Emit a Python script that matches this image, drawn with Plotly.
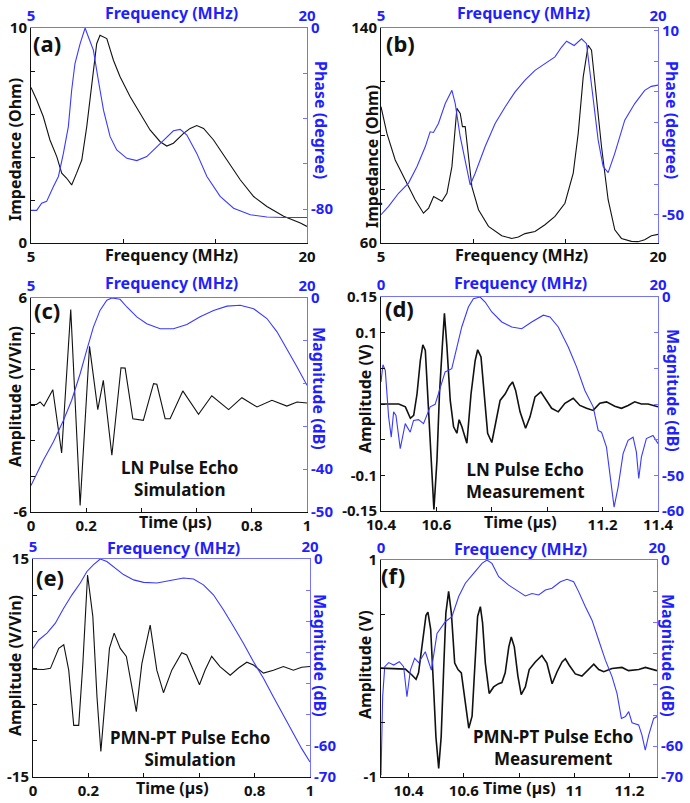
import plotly.graph_objects as go

W, H = 690, 803
FONT = 'Noto Sans'
BLACK = '#111111'
BLUE = '#1f1fff'
BLUE_LINE = '#3a3aff'
BLUE_AXIS = '#7373ff'

# (a) LN impedance / phase
a_f_imp = [5, 5.31, 5.67, 6.03, 6.40, 6.67, 6.94, 7.21, 7.48, 7.76, 8.03, 8.30, 8.57, 8.75, 9.12, 9.48,
           9.84, 10.39, 10.93, 11.47, 12.02, 12.38, 12.74, 13.29, 13.65, 14.01, 14.38, 14.92, 15.65,
           16.37, 17.10, 17.82, 18.73, 19.64, 20]
a_imp = [7.23, 6.65, 5.87, 4.79, 4.02, 3.25, 3.01, 2.70, 3.25, 3.86, 5.41, 7.42, 9.27, 9.66, 9.51, 8.50,
         7.73, 6.80, 6.03, 5.26, 4.71, 4.51, 4.64, 5.10, 5.33, 5.46, 5.33, 4.79, 3.86,
         2.94, 2.16, 1.70, 1.24, 0.93, 0.77]
a_f_ph = [5, 5.31, 5.58, 5.85, 6.22, 6.49, 6.76, 7.03, 7.21, 7.39, 7.67, 7.94, 8.12, 8.39, 8.66, 8.94,
          9.30, 9.66, 10.21, 10.75, 11.29, 11.84, 12.38, 12.74, 13.11, 13.47, 14.01, 14.56, 15.28,
          16.01, 16.92, 17.82, 18.73, 20]
a_phase = [-80.6, -80.6, -77.4, -76.6, -70.0, -65.6, -55.4, -43.6, -27.5, -15.7, -6.9, 0, -4.0, -9.8,
           -23.1, -36.3, -48.0, -53.9, -57.6, -58.6, -56.8, -52.4, -48.0, -45.4, -44.8, -47.3, -55.4,
           -65.6, -74.4, -79.6, -82.5, -83.5, -83.7, -83.7]

# (b) PMN-PT impedance / phase
b_f_imp = [5, 5.32, 5.77, 6.31, 6.85, 7.30, 7.58, 7.85, 8.12, 8.30, 8.57, 8.84, 9.11, 9.29, 9.41, 9.56,
           9.74, 9.92, 10.28, 10.82, 11.54, 12.08, 12.44, 12.80, 13.34, 13.88, 14.42, 14.96, 15.41,
           15.68, 15.95, 16.22, 16.40, 16.67, 16.94, 17.30, 17.66, 18.02, 18.56, 18.92, 19.28, 19.64, 20]
b_imp = [110.7, 100.8, 90.9, 83.5, 76.1, 71.1, 73.0, 77.3, 76.3, 75.5, 78.5, 88.4, 110.1, 108.2, 103.3,
         103.3, 92.1, 81.0, 72.4, 66.2, 62.7, 61.7, 62.2, 63.5, 64.3, 66.8, 69.9, 74.8, 86.0,
         100.8, 121.8, 133.6, 131.7, 113.2, 95.9, 76.1, 64.9, 61.7, 60.6, 60.5, 61.2, 62.7, 63.2]
b_f_ph = [5, 5.41, 5.95, 6.49, 6.95, 7.40, 7.66, 7.84, 8.11, 8.48, 8.84, 9.02, 9.29, 9.56, 9.83, 10.10,
          10.64, 11.18, 11.72, 12.26, 12.80, 13.34, 13.88, 14.42, 14.78, 15.05, 15.46, 15.86, 16.13,
          16.40, 16.76, 17.03, 17.30, 17.66, 18.20, 18.74, 19.28, 19.64, 20]
b_phase = [-50, -47.3, -43.0, -39.7, -34.3, -27.8, -23.0, -23.2, -20.3, -13.8, -9.5, -13.8, -24.6, -32.2,
           -40.3, -36.5, -27.8, -20.3, -14.9, -10.0, -6.2, -3.0, -0.8, 1.4, 4.6, 6.5, 5.1, 7.3, 5.7,
           -8.4, -25.7, -34.3, -36.3, -30.0, -19.2, -13.8, -9.5, -8.2, -7.8]

# (c) LN pulse echo simulation
c_time = [0, 0.02, 0.033, 0.047, 0.079, 0.111, 0.144, 0.178, 0.212, 0.242, 0.262, 0.293, 0.326, 0.341,
          0.369, 0.407, 0.444, 0.456, 0.486, 0.504, 0.550, 0.607, 0.655, 0.716, 0.764, 0.819, 0.873,
          0.927, 0.964, 1.0]
c_amp = [0.03, 0.03, 0.17, -0.06, 0.86, -2.69, 5.35, -5.63, 3.29, -0.26, 1.38, -2.82, 2.09, 2.07,
         -0.77, -0.86, 1.20, 1.16, -0.77, -0.77, 0.79, -0.52, 0.52, -0.26, 0.41, -0.11, 0.26,
         -0.06, 0.17, 0.11]
c_freq = [5, 5.31, 5.67, 6.22, 6.76, 7.21, 7.67, 8.03, 8.39, 8.75, 9.12, 9.39, 9.66, 9.84, 10.21, 10.75,
          11.29, 12.02, 12.74, 13.47, 14.19, 14.92, 15.65, 16.37, 17.10, 17.82, 18.37, 18.91, 19.46, 20]
c_mag = [-43.8, -41.0, -37.9, -33.6, -28.6, -23.9, -17.7, -12.2, -6.8, -2.9, -0.5, 0, -0.2, -0.3, -2.1,
         -4.4, -6.0, -7.2, -7.2, -6.2, -4.4, -2.9, -1.9, -1.7, -2.5, -4.8, -7.9, -11.8, -16.1, -20.4]

# (d) LN pulse echo measurement
d_time = [10.4, 10.428, 10.464, 10.488, 10.506, 10.518, 10.530, 10.542, 10.551, 10.560, 10.569, 10.581,
          10.591, 10.602, 10.611, 10.622, 10.629, 10.638, 10.650, 10.662, 10.674, 10.682, 10.692,
          10.710, 10.725, 10.740, 10.749, 10.761, 10.773, 10.785, 10.800, 10.812, 10.830, 10.848,
          10.863, 10.875, 10.886, 10.902, 10.922, 10.938, 10.956, 10.977, 10.998, 11.016, 11.040,
          11.064, 11.094, 11.118, 11.142, 11.166, 11.190, 11.214, 11.244, 11.268, 11.292, 11.316,
          11.340, 11.364, 11.4]
d_amp = [0.0, 0.0, 0.0, -0.004, -0.02, -0.016, 0.014, 0.061, 0.083, 0.075, 0.014, -0.079,
         -0.148, -0.079, 0.014, 0.085, 0.127, 0.080, 0.005, -0.032, -0.041, -0.022, -0.032,
         -0.055, 0.014, 0.061, 0.076, 0.066, 0.014, -0.041, -0.054, -0.032, 0.005, 0.014,
         0.025, 0.031, 0.019, -0.011, -0.034, -0.018, 0.010, 0.017, 0.005, -0.006, -0.011,
         0.001, 0.008, -0.002, -0.006, -0.009, 0.001, 0.003, -0.003, -0.006, -0.002, 0.003,
         0.0, 0.0, -0.004]
d_freq = [0, 0.14, 0.31, 0.55, 0.74, 0.91, 1.08, 1.39, 1.75, 2.11, 2.35, 2.71, 3.07, 3.55, 3.91, 4.27,
          4.63, 5.11, 5.47, 5.83, 6.31, 6.67, 7.15, 7.52, 8.00, 8.72, 9.44, 10.16, 10.88, 11.72, 12.20,
          12.80, 13.52, 14.12, 14.72, 15.32, 15.68, 15.92, 16.28, 16.57, 16.83, 17.12, 17.48, 17.84,
          18.20, 18.44, 18.61, 18.80, 19.16, 19.64, 20]
d_mag = [-23.8, -19.0, -20.6, -33.6, -39.3, -32.2, -33.2, -42.5, -35.5, -37.9, -34.6, -34.4, -35.5,
         -30.8, -30.1, -25.2, -21.0, -20.1, -14.5, -8.4, -2.8, -0.5, 0, -1.4, -4.2, -7.0, -8.4, -8.9,
         -7.0, -5.1, -5.6, -8.4, -14.0, -19.6, -26.2, -30.8, -37.4, -37.9, -42.1, -51.4, -58.9,
         -53.3, -43.9, -40.2, -39.3, -43.5, -50.9, -44.9, -39.7, -38.8, -41.1]

# (e) PMN-PT pulse echo simulation
e_time = [0, 0.038, 0.063, 0.093, 0.111, 0.129, 0.147, 0.165, 0.180, 0.197, 0.216, 0.231, 0.245, 0.261,
          0.276, 0.293, 0.315, 0.337, 0.353, 0.373, 0.393, 0.423, 0.447, 0.471, 0.501, 0.537, 0.555,
          0.579, 0.601, 0.621, 0.645, 0.675, 0.712, 0.742, 0.772, 0.796, 0.832, 0.868, 0.904, 0.940,
          0.970, 1.0]
e_amp = [-0.18, -0.2, -0.05, 2.7, 3.2, -0.3, -7.9, -7.9, 0.6, 12.8, 7.1, -4.0, -11.5, -4.0, 2.7, 4.8,
         2.7, 1.6, -1.7, -6.0, 0.6, 5.9, -0.3, -3.4, -0.3, 2.1, 1.8, -0.3, -2.3, -0.3, 1.6, 0.2,
         -1.0, 0.0, 0.8, 0.4, -0.7, -0.3, 0.2, -0.3, 0.1, 0.2]
e_freq = [5, 5.31, 5.76, 6.21, 6.66, 7.11, 7.56, 7.92, 8.28, 8.64, 9.00, 9.36, 9.90, 10.45, 10.99, 11.71,
          12.43, 13.15, 13.69, 14.23, 14.77, 15.31, 15.86, 16.40, 16.94, 17.48, 18.02, 18.56, 19.10,
          19.55, 20]
e_mag = [-28.7, -26.0, -23.8, -20.6, -15.8, -11.5, -7.7, -4.0, -1.8, 0, -0.8, -2.4, -5.0, -6.7, -7.5,
         -7.7, -6.9, -6.1, -6.4, -8.3, -11.5, -16.3, -21.7, -27.1, -33.0, -38.3, -44.3, -50.2, -56.1,
         -60.9, -65.2]

# (f) PMN-PT pulse echo measurement
f_time = [10.3, 10.352, 10.388, 10.412, 10.427, 10.436, 10.451, 10.463, 10.470, 10.480, 10.491, 10.499,
          10.509, 10.518, 10.527, 10.535, 10.545, 10.555, 10.567, 10.579, 10.591, 10.603, 10.618,
          10.630, 10.642, 10.650, 10.660, 10.668, 10.678, 10.692, 10.708, 10.726, 10.738, 10.750,
          10.763, 10.772, 10.783, 10.796, 10.808, 10.823, 10.837, 10.859, 10.883, 10.901, 10.920,
          10.938, 10.956, 10.968, 10.982, 11.004, 11.028, 11.052, 11.071, 11.089, 11.107, 11.137,
          11.173, 11.197, 11.234, 11.258, 11.3]
f_amp = [0.003, 0.0, -0.006, -0.06, -0.10, -0.04, 0.26, 0.49, 0.52, 0.36, -0.20, -0.63, -0.92, -0.63,
         -0.01, 0.51, 0.71, 0.51, 0.05, -0.01, -0.04, -0.29, -0.55, -0.44, 0.14, 0.48, 0.57, 0.42,
         0.05, -0.23, -0.17, -0.14, -0.13, -0.04, 0.20, 0.29, 0.20, -0.07, -0.24, -0.17, -0.01,
         0.06, 0.12, 0.05, -0.14, -0.03, 0.06, 0.09, 0.03, -0.05, -0.07, -0.01, 0.04, -0.01, -0.03,
         0.0, 0.01, -0.02, -0.01, 0.01, -0.02]
f_freq = [0, 0.12, 0.27, 0.56, 0.92, 1.33, 1.64, 1.88, 2.13, 2.44, 2.73, 3.21, 3.65, 4.06, 4.66, 5.14,
          5.63, 6.11, 6.71, 7.32, 7.68, 8.04, 8.53, 9.25, 9.98, 10.46, 10.94, 11.43, 11.91, 12.39,
          13.00, 13.48, 13.96, 14.32, 14.81, 15.29, 15.77, 16.26, 16.74, 17.10, 17.42, 17.71, 17.95,
          18.19, 18.67, 18.91, 19.15, 19.40, 19.76, 20]
f_mag = [-69.4, -44.1, -34.4, -33.1, -33.9, -32.8, -34.4, -44.1, -35.5, -31.7, -33.1, -29.6, -35.5,
         -23.7, -19.9, -18.3, -11.8, -7.5, -4.3, -1.1, 0, -1.1, -5.4, -8.1, -10.2, -11.6, -10.8, -11.3,
         -9.7, -9.1, -7.0, -6.2, -7.0, -10.2, -15.1, -19.4, -25.8, -32.3, -37.6, -43.0, -51.1, -50.5,
         -48.9, -52.5, -53.2, -56.5, -61.3, -56.5, -51.1, -50.5]

TIME_TICKS = [0, 0.2, 0.4, 0.6, 0.8, 1]
TIME_TEXT = ['0', '0.2', '', '', '0.8', '1']

panels = [
    dict(box=(31, 28, 307, 243), tag='(a)', tagpos=(47, 43), lw=1.1,
         bx=a_f_imp, by=a_imp, tx=a_f_ph, ty=a_phase,
         x=[5, 20], xt=[5, 10, 15, 20], xl=['5', '', '', '20'], xtitle='Frequency (MHz)', xpos=(171, 255),
         x2=[5, 20], x2l=['5', '20'], x2pos=(171, 13),
         y=[0, 10], yt=[0, 2, 4, 6, 8, 10], yl=['0', '', '', '', '', '10'],
         ytitle='Impedance (Ohm)', ypos=(15, 150),
         y2=[-95, 0], y2t=[-80, -60, -40, -20, 0], y2l=['-80', '', '', '', '0'],
         y2title='Phase (degree)', y2pos=(321, 120), note=None),
    dict(box=(381, 28, 658, 243), tag='(b)', tagpos=(400, 43), lw=1.1,
         bx=b_f_imp, by=b_imp, tx=b_f_ph, ty=b_phase,
         x=[5, 20], xt=[5, 10, 15, 20], xl=['5', '', '', '20'], xtitle='Frequency (MHz)', xpos=(521, 255),
         x2=[5, 20], x2l=['5', '20'], x2pos=(523, 13),
         y=[60, 140], yt=[60, 80, 100, 120, 140], yl=['60', '', '', '', '140'],
         ytitle='Impedance (Ohm)', ypos=(372, 157),
         y2=[-59.2, 10.8], y2t=[-50, -40, -30, -20, -10, 0, 10], y2l=['-50', '', '', '', '', '', '10'],
         y2title='Phase (degree)', y2pos=(672, 120), note=None),
    dict(box=(31, 298, 307, 512), tag='(c)', tagpos=(47, 310), lw=1.1,
         bx=c_time, by=c_amp, tx=c_freq, ty=c_mag,
         x=[0, 1], xt=TIME_TICKS, xl=TIME_TEXT, xtitle='Time (µs)', xpos=(175, 522),
         x2=[5, 20], x2l=['5', '20'], x2pos=(171, 283),
         y=[-6, 6], yt=[-6, -4, -2, 0, 2, 4, 6], yl=['-6', '', '', '', '', '', '6'],
         ytitle='Amplitude (V/Vin)', ypos=(15, 397),
         y2=[-50, 0], y2t=[-50, -40, -30, -20, -10, 0], y2l=['-50', '-40', '', '', '', '0'],
         y2title='Magnitude (dB)', y2pos=(319, 388),
         note=('LN Pulse Echo<br>Simulation', 180, 478)),
    dict(box=(381, 297, 658, 511), tag='(d)', tagpos=(399, 308), lw=1.6,
         bx=d_time, by=d_amp, tx=d_freq, ty=d_mag,
         x=[10.4, 11.4], xt=[10.4, 10.6, 10.8, 11.0, 11.2, 11.4],
         xl=['10.4', '10.6', '', '', '11.2', '11.4'], xtitle='Time (µs)', xpos=(520, 522),
         x2=[0, 20], x2l=['0', '20'], x2pos=(520, 283),
         y=[-0.15, 0.15], yt=[-0.15, -0.1, -0.05, 0, 0.05, 0.1, 0.15],
         yl=['-0.15', '-0.1', '', '', '', '0.1', '0.15'],
         ytitle='Amplitude (V)', ypos=(365, 399),
         y2=[-60, 0], y2t=[-60, -50, -40, -30, -20, -10, 0], y2l=['-60', '-50', '', '', '', '', '0'],
         y2title='Magnitude (dB)', y2pos=(673, 390),
         note=('LN Pulse Echo<br>Measurement', 525, 481)),
    dict(box=(33, 559, 310, 777), tag='(e)', tagpos=(50, 577), lw=1.1,
         bx=e_time, by=e_amp, tx=e_freq, ty=e_mag,
         x=[0, 1], xt=TIME_TICKS, xl=TIME_TEXT, xtitle='Time (µs)', xpos=(172, 788),
         x2=[5, 20], x2l=['5', '20'], x2pos=(173, 548),
         y=[-15, 15], yt=[-15, -10, -5, 0, 5, 10, 15], yl=['-15', '', '', '', '', '', '15'],
         ytitle='Amplitude (V/Vin)', ypos=(15, 666),
         y2=[-70, 0], y2t=[-70, -60, -50, -40, -30, -20, -10, 0],
         y2l=['-70', '-60', '', '', '', '', '', '0'],
         y2title='Magnitude (dB)', y2pos=(320, 655),
         note=('PMN-PT Pulse Echo<br>Simulation', 190, 748)),
    dict(box=(381, 560, 657, 777), tag='(f)', tagpos=(393, 575), lw=1.6,
         bx=f_time, by=f_amp, tx=f_freq, ty=f_mag,
         x=[10.3, 11.3], xt=[10.4, 10.6, 10.8, 11.0, 11.2],
         xl=['10.4', '10.6', '', '11', '11.2'], xtitle='Time (µs)', xpos=(519, 788),
         x2=[0, 20], x2l=['0', '20'], x2pos=(520, 549),
         y=[-1, 1], yt=[-1, -0.5, 0, 0.5, 1], yl=['-1', '', '', '', '1'],
         ytitle='Amplitude (V)', ypos=(365, 665),
         y2=[-70, 0], y2t=[-70, -60, -50, -40, -30, -20, -10, 0],
         y2l=['-70', '-60', '', '', '', '', '', '0'],
         y2title='Magnitude (dB)', y2pos=(668, 655),
         note=('PMN-PT Pulse Echo<br>Measurement', 553, 747)),
]


def fx(px):
    return px / W


def fy(px):
    return 1 - px / H


def tfont(color, size=16):
    return dict(family=FONT, size=size, color=color, weight='bold')


fig = go.Figure()
layout = dict(width=W, height=H, margin=dict(l=0, r=0, t=0, b=0, autoexpand=False),
              paper_bgcolor='white', plot_bgcolor='white', showlegend=False)
annotations = []

for i, p in enumerate(panels):
    n1, n2 = 2 * i + 1, 2 * i + 2
    x1, y1 = f'x{n1}', f'y{n1}'
    x2, y2 = f'x{n2}', f'y{n2}'
    left, top, right, bottom = p['box']
    xdom = [fx(left), fx(right)]
    ydom = [fy(bottom), fy(top)]

    fig.add_trace(go.Scatter(x=p['bx'], y=p['by'], mode='lines', xaxis=x1, yaxis=y1,
                             line=dict(color=BLACK, width=p['lw'])))
    fig.add_trace(go.Scatter(x=p['tx'], y=p['ty'], mode='lines', xaxis=x2, yaxis=y2,
                             line=dict(color=BLUE_LINE, width=1.1)))

    common = dict(showgrid=False, zeroline=False, automargin=False, fixedrange=True, showline=True,
                  linewidth=1)
    layout[f'xaxis{n1}'] = dict(domain=xdom, anchor=y1, range=p['x'], tickvals=p['xt'], ticktext=p['xl'],
                                ticks='inside', ticklen=4, tickcolor=BLACK, linecolor=BLACK,
                                tickfont=tfont(BLACK, 15), **common)
    layout[f'xaxis{n2}'] = dict(overlaying=x1, anchor=y1, side='top', range=p['x2'],
                                tickvals=p['x2'], ticktext=p['x2l'], ticks='', linecolor=BLUE_AXIS,
                                tickfont=tfont(BLUE, 15), **common)
    layout[f'yaxis{n1}'] = dict(domain=ydom, anchor=x1, range=p['y'], tickvals=p['yt'], ticktext=p['yl'],
                                ticks='inside', ticklen=4, tickcolor=BLACK, linecolor=BLACK,
                                tickfont=tfont(BLACK, 15), **common)
    layout[f'yaxis{n2}'] = dict(overlaying=y1, anchor=x1, side='right', range=p['y2'],
                                tickvals=p['y2t'], ticktext=p['y2l'], ticks='inside', ticklen=4,
                                tickcolor=BLUE_AXIS, linecolor=BLUE_AXIS,
                                tickfont=tfont(BLUE, 15), **common)

    # axis titles sit on the tick-label line, as in the original figure
    annotations.append(dict(text=p['xtitle'], x=fx(p['xpos'][0]), y=fy(p['xpos'][1]),
                            font=tfont(BLACK)))
    annotations.append(dict(text='Frequency (MHz)', x=fx(p['x2pos'][0]), y=fy(p['x2pos'][1]),
                            font=tfont(BLUE)))
    annotations.append(dict(text=p['ytitle'], x=fx(p['ypos'][0]), y=fy(p['ypos'][1]),
                            textangle=-90, font=tfont(BLACK)))
    annotations.append(dict(text=p['y2title'], x=fx(p['y2pos'][0]), y=fy(p['y2pos'][1]),
                            textangle=90, font=tfont(BLUE)))
    annotations.append(dict(text=p['tag'], x=fx(p['tagpos'][0]), y=fy(p['tagpos'][1]),
                            font=tfont(BLACK, 22)))
    if p['note']:
        text, nx, ny = p['note']
        annotations.append(dict(text=text, x=fx(nx), y=fy(ny), font=tfont(BLACK, 17)))

for a in annotations:
    a.update(xref='paper', yref='paper', showarrow=False, xanchor='center', yanchor='middle')
layout['annotations'] = annotations

fig.update_layout(**layout)
# the page body keeps its default 8px margin otherwise, which shifts the whole figure
fig.write_html('out.html', config={'displayModeBar': False},
               post_script="document.body.style.margin = '0px';")
